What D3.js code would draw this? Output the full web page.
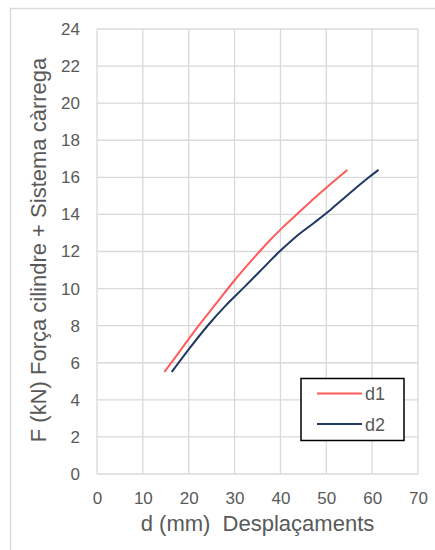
<!DOCTYPE html>
<html>
<head>
<meta charset="utf-8">
<script src="https://cdn.jsdelivr.net/npm/d3@7"></script>
<style>
  html, body { margin: 0; padding: 0; background: #ffffff; }
  svg { display: block; font-family: "Liberation Sans", Arial, sans-serif; }
</style>
</head>
<body>
<svg id="chart" width="435" height="550"></svg>
<script>
// Load-displacement curves, force (kN) against displacement (mm)
const d1Disp  = [14.7, 18.0, 22.0, 26.0, 30.0, 34.0, 37.3, 40.5, 44.0, 47.5, 51.0, 54.6];
const d1Force = [5.5, 6.6, 7.95, 9.2, 10.45, 11.6, 12.5, 13.3, 14.1, 14.9, 15.65, 16.4];
const d2Disp  = [16.3, 20.0, 24.3, 28.0, 32.0, 36.0, 39.5, 43.2, 47.5, 51.0, 55.0, 59.3, 61.4];
const d2Force = [5.5, 6.72, 8.05, 9.07, 10.05, 11.05, 11.93, 12.76, 13.58, 14.27, 15.12, 16.0, 16.4];
const seriesNames = ["d1", "d2"];
const seriesColors = ["#ff5b5b", "#1f3864"];
const xTicks = [0, 10, 20, 30, 40, 50, 60, 70];
const yTicks = [0, 2, 4, 6, 8, 10, 12, 14, 16, 18, 20, 22, 24];
const xTitle = "d (mm)  Desplaçaments";
const yTitle = "F (kN) Força cilindre + Sistema càrrega";

const svg = d3.select("#chart");
const plot = { left: 97, right: 418, top: 29, bottom: 474 };

const x = d3.scaleLinear().domain([0, 70]).range([plot.left, plot.right]);
const y = d3.scaleLinear().domain([0, 24]).range([plot.bottom, plot.top]);

// outer chart frame
svg.append("rect")
  .attr("x", 10.5).attr("y", 8.5)
  .attr("width", 440).attr("height", 560)
  .attr("fill", "none").attr("stroke", "#d9d9d9").attr("stroke-width", 1.5);

// gridlines
const grid = svg.append("g").attr("stroke", "#d9d9d9").attr("stroke-width", 1.3);
grid.selectAll("line.v").data(xTicks).join("line")
  .attr("class", "v")
  .attr("x1", d => x(d)).attr("x2", d => x(d))
  .attr("y1", plot.top).attr("y2", plot.bottom);
grid.selectAll("line.h").data(yTicks).join("line")
  .attr("class", "h")
  .attr("x1", plot.left).attr("x2", plot.right)
  .attr("y1", d => y(d)).attr("y2", d => y(d));

// axes (labels only; the grid draws the lines)
const xAxis = svg.append("g")
  .attr("transform", `translate(0,${plot.bottom})`)
  .call(d3.axisBottom(x).tickValues(xTicks).tickSize(0).tickPadding(18));
const yAxis = svg.append("g")
  .attr("transform", `translate(${plot.left},0)`)
  .call(d3.axisLeft(y).tickValues(yTicks).tickSize(0).tickPadding(17));
[xAxis, yAxis].forEach(a => {
  a.select(".domain").remove();
  a.selectAll("text")
    .attr("fill", "#595959")
    .style("font-size", "17px")
    .style("font-family", "'Liberation Sans', Arial, sans-serif");
});

// axis titles
svg.append("text")
  .attr("x", (plot.left + plot.right) / 2).attr("y", 531)
  .attr("text-anchor", "middle")
  .attr("fill", "#595959").style("font-size", "22px")
  .style("white-space", "pre")
  .text(xTitle);
svg.append("text")
  .attr("transform", `translate(46,250) rotate(-90)`)
  .attr("text-anchor", "middle")
  .attr("fill", "#595959").style("font-size", "22px")
  .text(yTitle);

// series lines
const series = [
  { name: seriesNames[0], color: seriesColors[0], pts: d1Disp.map((d, i) => [d, d1Force[i]]) },
  { name: seriesNames[1], color: seriesColors[1], pts: d2Disp.map((d, i) => [d, d2Force[i]]) }
];
const line = d3.line().x(p => x(p[0])).y(p => y(p[1])).curve(d3.curveMonotoneX);
svg.append("g").selectAll("path").data(series).join("path")
  .attr("d", s => line(s.pts))
  .attr("fill", "none")
  .attr("stroke", s => s.color)
  .attr("stroke-width", 2);

// legend
const legend = svg.append("g");
legend.append("rect")
  .attr("x", 301).attr("y", 378.5)
  .attr("width", 103).attr("height", 62)
  .attr("fill", "#ffffff").attr("stroke", "#000000").attr("stroke-width", 1.5);
const items = legend.selectAll("g.item").data(series).join("g")
  .attr("class", "item")
  .attr("transform", (s, i) => `translate(0,${393.5 + i * 30.5})`);
items.append("line")
  .attr("x1", 317).attr("x2", 362)
  .attr("stroke", s => s.color).attr("stroke-width", 2);
items.append("text")
  .attr("x", 365).attr("y", 6.5)
  .attr("fill", "#595959").style("font-size", "18px")
  .text(s => s.name);
</script>
</body>
</html>
